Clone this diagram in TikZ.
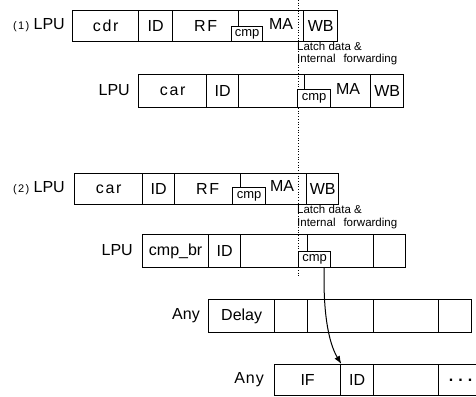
\documentclass[tikz,border=0pt]{standalone}
\usepackage{fontspec}
\setmainfont{Liberation Sans}
\usetikzlibrary{calc,arrows.meta}
\tikzset{
 cell/.style={draw, line width=1.3pt, inner sep=0pt, anchor=north west, font=\fontsize{16}{16}\selectfont},
 cmpbox/.style={draw, fill=white, line width=1.2pt, inner sep=0pt, anchor=north west, font=\fontsize{13}{13}\selectfont},
 lbl/.style={anchor=east, inner sep=0pt, font=\fontsize{16}{16}\selectfont},
 txt/.style={inner sep=0pt, font=\fontsize{16}{16}\selectfont},
 note/.style={anchor=base west, inner sep=0pt, font=\fontsize{11.5}{11.5}\selectfont},
 sp/.style={font=\fontsize{16}{16}\selectfont\addfontfeature{LetterSpace=10}},
 conn/.style={line width=1pt, -{Latex[length=8pt,width=6pt]}},
 guide/.style={dotted, line width=0.7pt},
}
\begin{document}
\begin{tikzpicture}[x=1pt,y=-1pt]
\useasboundingbox (0,0) rectangle (476,396);
\clip (0,0) rectangle (476,396);

% guide line
\coordinate (dtop) at (298,0);
\coordinate (dbot) at (298,276);
\draw[guide] (dtop) -- (dbot);

% Row 1
\node[lbl] (l1) at (65,25.5) {{\fontsize{11}{11}\selectfont\addfontfeature{LetterSpace=12}(1)} LPU};
\node[cell, sp, minimum width=66, minimum height=31] (r1a) at (72,10) {cdr};
\node[cell, minimum width=34, minimum height=31] (r1b) at (138,10) {ID};
\node[cell, sp, minimum width=66, minimum height=31] (r1c) at (172,10) {RF};
\node[cell, minimum width=65, minimum height=31] (r1d) at (238,10) {};
\node[cell, minimum width=34, minimum height=31] (r1e) at (303,10) {WB};
\node[txt] (r1m) at (281,24) {MA};
\node[cmpbox, minimum width=31, minimum height=15] (c1) at (231,26) {cmp};
\node[note] (n1a) at (297,51) {Latch data \&};
\node[note] (n1b) at (297,63) {Internal\hspace{8pt}forwarding};

% Row 2
\node[lbl] (l2) at (130,90.5) {LPU};
\node[cell, sp, minimum width=68, minimum height=33] (r2a) at (138,74) {car};
\node[cell, minimum width=32, minimum height=33] (r2b) at (206,74) {ID};
\node[cell, minimum width=66, minimum height=33] (r2c) at (238,74) {};
\node[cell, minimum width=66, minimum height=33] (r2d) at (304,74) {};
\node[cell, minimum width=33, minimum height=33] (r2e) at (370,74) {WB};
\node[txt] (r2m) at (348,89) {MA};
\node[cmpbox, minimum width=33, minimum height=18] (c2) at (297,89) {cmp};

% Row 3
\node[lbl] (l3) at (65,188) {{\fontsize{11}{11}\selectfont\addfontfeature{LetterSpace=12}(2)} LPU};
\node[cell, sp, minimum width=68, minimum height=31] (r3a) at (74,173) {car};
\node[cell, minimum width=32, minimum height=31] (r3b) at (142,173) {ID};
\node[cell, sp, minimum width=66, minimum height=31] (r3c) at (174,173) {RF};
\node[cell, minimum width=66, minimum height=31] (r3d) at (240,173) {};
\node[cell, minimum width=32, minimum height=31] (r3e) at (306,173) {WB};
\node[txt] (r3m) at (282,186) {MA};
\node[cmpbox, minimum width=33, minimum height=17] (c3) at (232,187) {cmp};
\node[note] (n3a) at (297,213) {Latch data \&};
\node[note] (n3b) at (297,226) {Internal\hspace{8pt}forwarding};

% Row 4
\node[lbl] (l4) at (133,250.5) {LPU};
\node[cell, minimum width=66, minimum height=33] (r4a) at (142,234) {cmp\_br};
\node[cell, minimum width=32, minimum height=33] (r4b) at (208,234) {ID};
\node[cell, minimum width=67, minimum height=33] (r4c) at (240,234) {};
\node[cell, minimum width=66, minimum height=33] (r4d) at (307,234) {};
\node[cell, minimum width=32, minimum height=33] (r4e) at (373,234) {};
\node[cmpbox, minimum width=32, minimum height=16] (c4) at (298,251) {cmp};

% Row 5
\node[lbl] (l5) at (200,315.5) {Any};
\node[cell, minimum width=66, minimum height=33] (r5a) at (208,299) {Delay};
\node[cell, minimum width=33, minimum height=33] (r5b) at (274,299) {};
\node[cell, minimum width=66, minimum height=33] (r5c) at (307,299) {};
\node[cell, minimum width=65, minimum height=33] (r5d) at (373,299) {};
\node[cell, minimum width=33, minimum height=33] (r5e) at (438,299) {};

% Row 6
\node[lbl, font=\fontsize{16}{16}\selectfont\addfontfeature{LetterSpace=6}] (l6) at (264,380) {Any};
\node[cell, minimum width=66, minimum height=31] (r6a) at (274,364) {IF};
\node[cell, minimum width=33, minimum height=31] (r6b) at (340,364) {ID};
\node[cell, minimum width=65, minimum height=31] (r6c) at (373,364) {};
\node[cell, minimum width=44, minimum height=31] (r6d) at (438,364) {{\bfseries .\hspace{5pt}.\hspace{5pt}.}};
\draw[line width=1.3pt] (r6d.north east) -- ++(20,0) (r6d.south east) -- ++(20,0);

% connector
\draw[conn] ($(c4.south east)+(-7,0)$) .. controls (323,310) and (328,342) .. (r6a.north east);
\end{tikzpicture}
\end{document}
